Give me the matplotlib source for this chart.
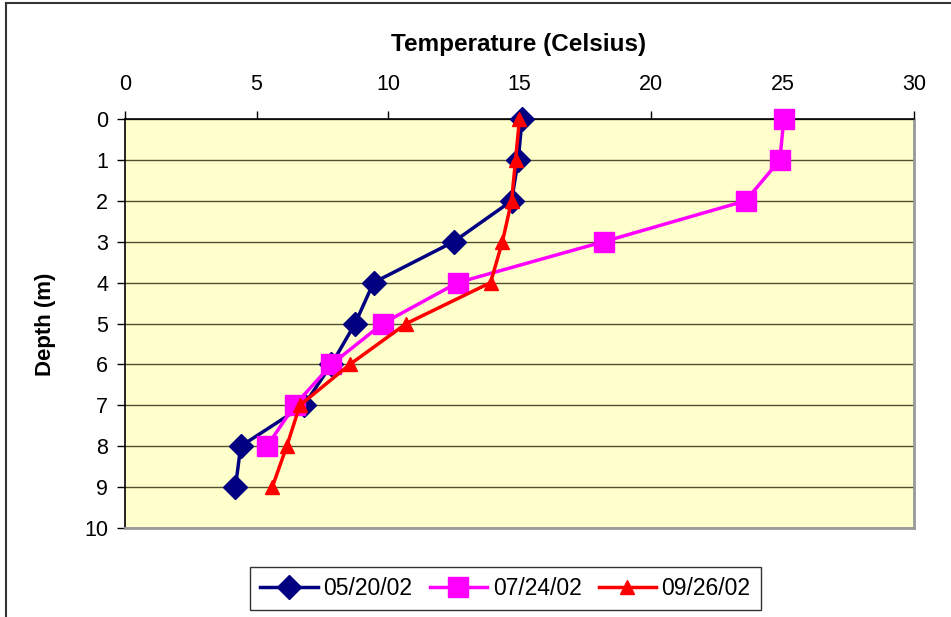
import matplotlib
matplotlib.use("Agg")
import matplotlib.pyplot as plt
from matplotlib.lines import Line2D

plt.rcParams['font.family'] = ['Liberation Sans', 'DejaVu Sans']

depth = [0, 1, 2, 3, 4, 5, 6, 7, 8, 9]
temp_0520 = [15.1, 14.95, 14.7, 12.5, 9.45, 8.75, 7.85, 6.8, 4.4, 4.2]
depth_0724 = [0, 1, 2, 3, 4, 5, 6, 7, 8]
temp_0724 = [25.05, 24.9, 23.6, 18.2, 12.65, 9.8, 7.85, 6.45, 5.4]
temp_0926 = [15.0, 14.85, 14.7, 14.35, 13.9, 10.7, 8.55, 6.65, 6.15, 5.6]
labels = ["05/20/02", "07/24/02", "09/26/02"]
xticks = [0, 5, 10, 15, 20, 25, 30]
yticks = list(range(0, 11))

fig = plt.figure(figsize=(9.51, 6.17), dpi=100)
W, H = 951, 617
ax = fig.add_axes([125 / W, 1 - 528 / H, (914 - 125) / W, (528 - 119) / H])
ax.set_facecolor('#FFFFCC')

ax.plot(temp_0520, depth, color='#000080', lw=2.5, marker='D', ms=12,
        markeredgecolor='#000080', label=labels[0], zorder=3, clip_on=False)
ax.plot(temp_0724, depth_0724, color='#FF00FF', lw=2.5, marker='s', ms=14,
        markeredgecolor='#FF00FF', label=labels[1], zorder=3, clip_on=False)
ax.plot(temp_0926, depth, color='#FF0000', lw=2.5, marker='^', ms=10,
        markeredgecolor='#FF0000', label=labels[2], zorder=3, clip_on=False)

ax.set_xlim(0, 30)
ax.set_ylim(10, 0)
ax.set_xticks(xticks)
ax.set_yticks(yticks)
ax.xaxis.tick_top()
ax.xaxis.set_label_position('top')
ax.tick_params(axis='both', labelsize=15.5, direction='out', length=6, width=1, color='black')
ax.tick_params(axis='x', pad=11)
ax.tick_params(axis='y', pad=6)
ax.grid(axis='y', color='#505030', lw=1)
ax.set_axisbelow(True)

for s in ['top', 'left']:
    ax.spines[s].set_color('black')
    ax.spines[s].set_linewidth(1.2)
for s in ['right', 'bottom']:
    ax.spines[s].set_color('#999999')
    ax.spines[s].set_linewidth(2)

fig.text(519 / W, 1 - 44 / H, "Temperature (Celsius)", ha='center', va='center',
         fontsize=17.5, fontweight='bold')
fig.text(46 / W, 1 - 324 / H, "Depth (m)", ha='center', va='center', rotation=90,
         fontsize=16, fontweight='bold')

leg = fig.legend(loc='center', bbox_to_anchor=(505.5 / W, 1 - 588.5 / H), ncol=3,
                 fontsize=16.5, frameon=True, fancybox=False, edgecolor='black',
                 handlelength=2.5, handletextpad=0.25, columnspacing=0.75,
                 borderpad=0.45, borderaxespad=0)
leg.get_frame().set_linewidth(1)

# outer chart border (cropped on right/bottom)
fig.add_artist(Line2D([6 / W, 6 / W], [0, 1 - 2.5 / H], transform=fig.transFigure,
                      color='#333333', lw=1.5))
fig.add_artist(Line2D([6 / W, 1], [1 - 2.5 / H, 1 - 2.5 / H], transform=fig.transFigure,
                      color='#333333', lw=1.5))

fig.savefig('out.png', dpi=100)
